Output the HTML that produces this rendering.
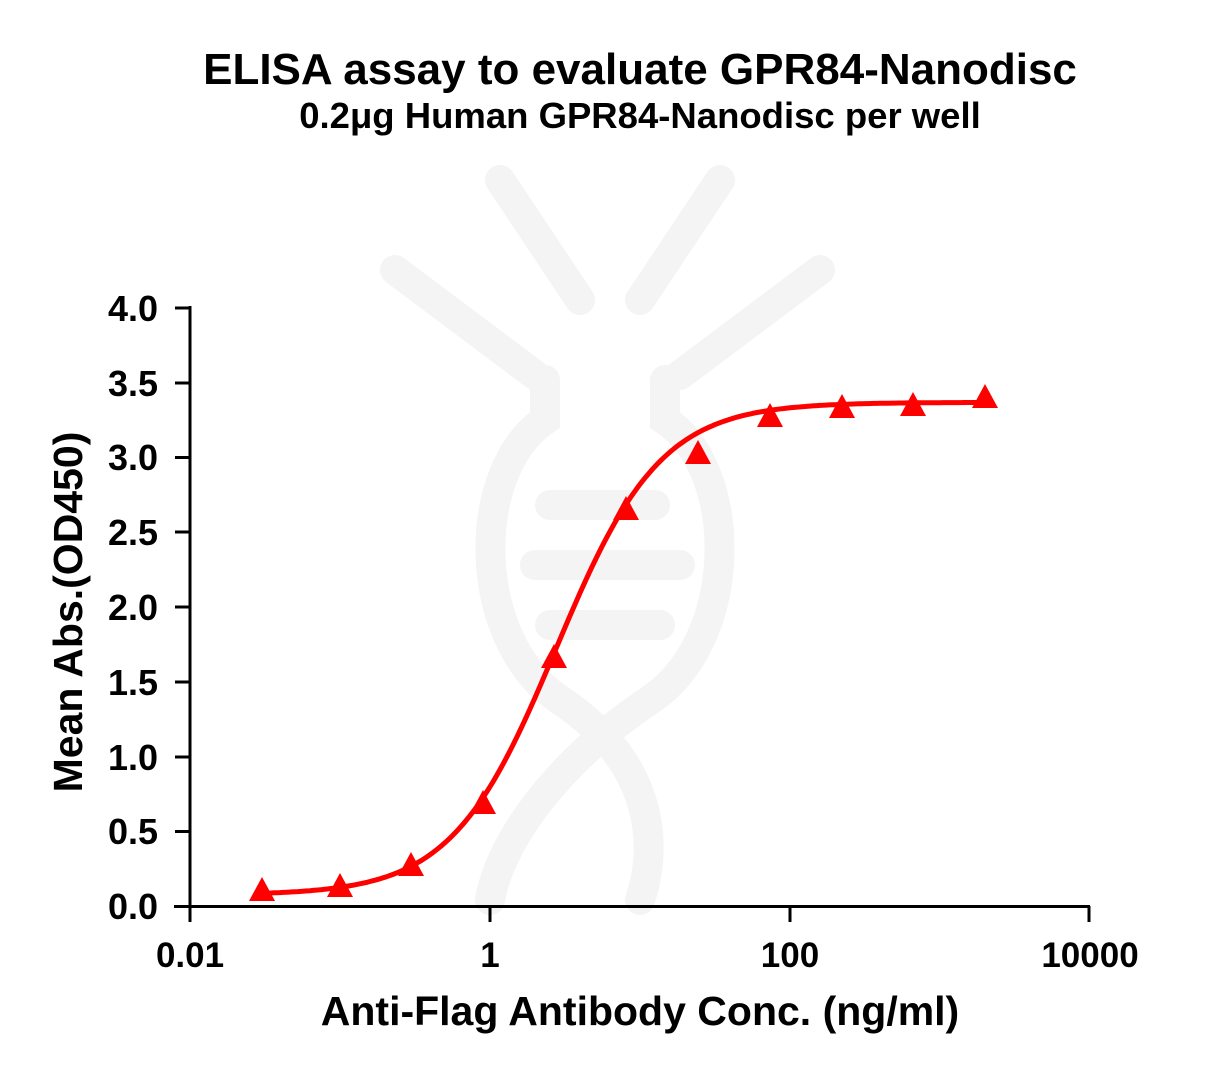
<!DOCTYPE html>
<html><head><meta charset="utf-8"><style>
html,body{margin:0;padding:0;background:#fff;}
svg text{font-family:"Liberation Sans",Arial,sans-serif;font-weight:bold;fill:#000;}
</style></head><body>
<svg id="s" width="1217" height="1075" viewBox="0 0 1217 1075" xmlns="http://www.w3.org/2000/svg">
<rect width="1217" height="1075" fill="#fff"/>
<g stroke="#f4f4f4" stroke-width="30" stroke-linecap="round" fill="none">
<line x1="500" y1="180" x2="580" y2="300"/>
<line x1="720" y1="180" x2="640" y2="300"/>
<line x1="395" y1="270" x2="535" y2="375"/>
<line x1="820" y1="270" x2="680" y2="375"/>
<path d="M545,380 L545,420 C470,470 470,640 560,700 C650,760 660,840 640,900"/>
<path d="M665,380 L665,420 C740,470 740,640 650,700 C560,760 500,840 490,900"/>
<line x1="550" y1="505" x2="655" y2="505"/>
<line x1="535" y1="565" x2="680" y2="565"/>
<line x1="550" y1="625" x2="660" y2="625"/>
</g>
<text x="640" y="84" font-size="44" text-anchor="middle">ELISA assay to evaluate GPR84-Nanodisc</text>
<text x="640" y="128" font-size="36.5" text-anchor="middle">0.2μg Human GPR84-Nanodisc per well</text>
<g stroke="#000" stroke-width="3" fill="none">
<line x1="190" y1="306" x2="190" y2="908"/>
<line x1="174" y1="906.5" x2="1090" y2="906.5"/>
<line x1="175" y1="308" x2="190" y2="308"/>
<line x1="175" y1="383" x2="190" y2="383"/>
<line x1="175" y1="457.5" x2="190" y2="457.5"/>
<line x1="175" y1="532" x2="190" y2="532"/>
<line x1="175" y1="607" x2="190" y2="607"/>
<line x1="175" y1="682" x2="190" y2="682"/>
<line x1="175" y1="757" x2="190" y2="757"/>
<line x1="175" y1="831.5" x2="190" y2="831.5"/>
<line x1="190" y1="906" x2="190" y2="922"/>
<line x1="490" y1="906" x2="490" y2="922"/>
<line x1="790" y1="906" x2="790" y2="922"/>
<line x1="1089" y1="906" x2="1089" y2="922"/>
</g>
<g font-size="36" text-anchor="end">
<text x="158" y="321">4.0</text>
<text x="158" y="396">3.5</text>
<text x="158" y="470">3.0</text>
<text x="158" y="545">2.5</text>
<text x="158" y="620">2.0</text>
<text x="158" y="695">1.5</text>
<text x="158" y="770">1.0</text>
<text x="158" y="844">0.5</text>
<text x="158" y="919">0.0</text>
</g>
<g font-size="35" text-anchor="middle">
<text x="190" y="967">0.01</text>
<text x="490" y="967">1</text>
<text x="790" y="967">100</text>
<text x="1090" y="967">10000</text>
</g>
<text x="640" y="1025" font-size="41" text-anchor="middle">Anti-Flag Antibody Conc. (ng/ml)</text>
<text transform="translate(82,612) rotate(-90)" font-size="41" text-anchor="middle">Mean Abs.(OD450)</text>
<path id="curve" d="" stroke="#f00" stroke-width="5" fill="none"/>
<g id="pts" fill="#f00"></g>
</svg>
<script>
var d="";
for(var x=262;x<=985;x+=3){
 var lc=(x-490)/150;
 var b=0.08,t=3.37,e=0.44,h=1.25;
 var y=b+(t-b)/(1+Math.pow(10,(e-lc)*h));
 var py=907-y*149.75;
 d+=(d?"L":"M")+x+","+py.toFixed(1);
}
document.getElementById("curve").setAttribute("d",d);
var pts=[[262,890],[340,886],[411,865],[483,803],[554,657],[626,509],[698,453],[770,416],[842,407],[913,405],[985,397]];
var g=document.getElementById("pts"),s="";
pts.forEach(function(p){s+='<polygon points="'+p[0]+','+(p[1]-13)+' '+(p[0]-13)+','+(p[1]+11)+' '+(p[0]+13)+','+(p[1]+11)+'"/>';});
g.innerHTML=s;
</script>
</body></html>
